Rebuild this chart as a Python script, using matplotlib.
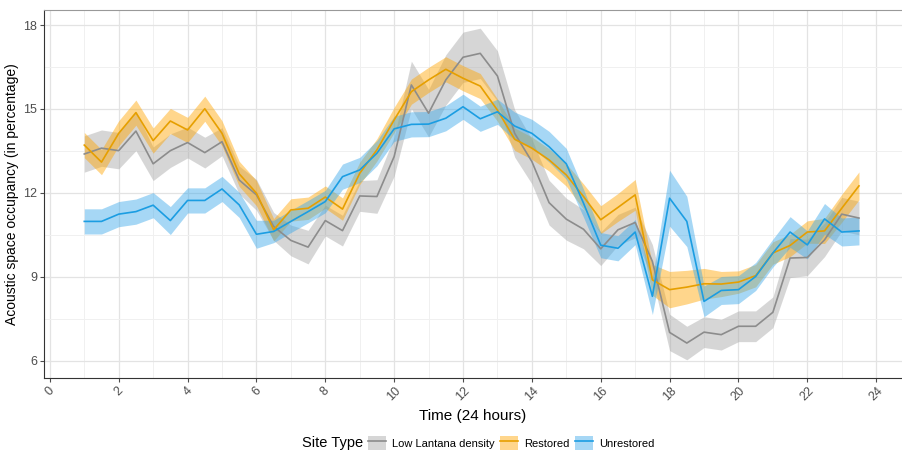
import matplotlib.pyplot as plt
import numpy as np
from matplotlib.lines import Line2D
from matplotlib.patches import Patch

plt.rcParams['font.family'] = ['Liberation Sans', 'DejaVu Sans']

hours = np.arange(1, 24, 0.5)

# Low Lantana density
low_mean = [13.39, 13.60, 13.51, 14.21, 13.04, 13.51, 13.80, 13.44, 13.83, 12.46,
            11.93, 10.80, 10.30, 10.06, 11.01, 10.65, 11.89, 11.87, 13.30, 15.86,
            14.85, 16.04, 16.85, 16.99, 16.18, 14.13, 13.12, 11.65, 11.06, 10.70,
            10.00, 10.68, 10.94, 9.55, 7.01, 6.63, 7.02, 6.93, 7.23, 7.23,
            7.73, 9.67, 9.69, 10.32, 11.24, 11.10]
low_hw = [0.65, 0.65, 0.65, 0.70, 0.60, 0.60, 0.55, 0.55, 0.50, 0.50,
          0.55, 0.50, 0.55, 0.60, 0.55, 0.55, 0.55, 0.60, 0.70, 0.85,
          0.85, 0.90, 0.90, 0.90, 0.90, 0.85, 0.80, 0.80, 0.75, 0.70,
          0.60, 0.55, 0.55, 0.60, 0.65, 0.60, 0.55, 0.55, 0.55, 0.55,
          0.55, 0.70, 0.65, 0.60, 0.60, 0.60]

# Restored
res_mean = [13.71, 13.10, 14.13, 14.87, 13.87, 14.57, 14.25, 15.01, 14.13, 12.68,
            11.99, 10.68, 11.39, 11.45, 11.85, 11.42, 12.70, 13.54, 14.61, 15.62,
            16.04, 16.42, 16.10, 15.82, 14.96, 13.92, 13.60, 13.18, 12.64, 11.87,
            11.04, 11.48, 11.93, 8.89, 8.54, 8.63, 8.75, 8.74, 8.81, 9.04,
            9.85, 10.12, 10.60, 10.64, 11.45, 12.25]
res_hw = [0.45, 0.45, 0.45, 0.45, 0.45, 0.45, 0.45, 0.45, 0.45, 0.45,
          0.45, 0.40, 0.40, 0.40, 0.40, 0.40, 0.40, 0.40, 0.45, 0.45,
          0.45, 0.45, 0.45, 0.45, 0.40, 0.40, 0.40, 0.40, 0.40, 0.45,
          0.50, 0.50, 0.55, 0.55, 0.65, 0.60, 0.55, 0.45, 0.40, 0.40,
          0.40, 0.40, 0.40, 0.45, 0.50, 0.50]

# Unrestored
unr_mean = [10.98, 10.98, 11.24, 11.33, 11.56, 11.01, 11.73, 11.73, 12.14, 11.57,
            10.52, 10.62, 10.98, 11.33, 11.69, 12.58, 12.82, 13.42, 14.29, 14.45,
            14.46, 14.67, 15.08, 14.65, 14.90, 14.39, 14.13, 13.65, 13.04, 11.63,
            10.13, 10.02, 10.60, 8.30, 11.81, 10.98, 8.12, 8.51, 8.54, 9.01,
            9.85, 10.60, 10.14, 11.07, 10.60, 10.64]
unr_hw = [0.45, 0.45, 0.45, 0.45, 0.45, 0.50, 0.45, 0.45, 0.45, 0.45,
          0.50, 0.40, 0.40, 0.40, 0.40, 0.45, 0.45, 0.45, 0.45, 0.45,
          0.45, 0.45, 0.45, 0.45, 0.45, 0.50, 0.50, 0.55, 0.55, 0.50,
          0.45, 0.45, 0.45, 0.65, 1.00, 0.90, 0.55, 0.50, 0.50, 0.50,
          0.50, 0.55, 0.50, 0.55, 0.50, 0.50]

series = [
    ('Low Lantana density', low_mean, low_hw, '#8c8c8c', '#a6a6a6'),
    ('Restored', res_mean, res_hw, '#E69F00', '#FFA500'),
    ('Unrestored', unr_mean, unr_hw, '#1B9DE2', '#3AA8EA'),
]

fig = plt.figure(figsize=(9.03, 4.51), dpi=100)
ax = fig.add_axes([44 / 903, 1 - 378 / 451, 858 / 903, 368 / 451])

handles = []
for name, m, hw, line_c, fill_c in series:
    m = np.array(m)
    hw = np.array(hw)
    ax.fill_between(hours, m - hw, m + hw, color=fill_c, alpha=0.45, lw=0, zorder=2)
    ax.plot(hours, m, color=line_c, lw=1.2, zorder=3)
    handles.append((Patch(facecolor=fill_c, alpha=0.45, edgecolor='none'),
                    Line2D([], [], color=line_c, lw=1.2)))

ax.set_xlim(-0.17, 24.75)
ax.set_ylim(5.38, 18.54)
ax.set_xticks(np.arange(0, 25, 2))
ax.set_xticks(np.arange(1, 25, 2), minor=True)
ax.set_yticks([6, 9, 12, 15, 18])
ax.set_yticks([7.5, 10.5, 13.5, 16.5], minor=True)
ax.grid(which='major', color='#e3e3e3', lw=0.9, zorder=0)
ax.grid(which='minor', color='#f0f0f0', lw=0.7, zorder=0)
ax.set_axisbelow(True)

ax.tick_params(axis='x', which='major', labelrotation=45, labelsize=9, colors='#4d4d4d',
               length=3, pad=2)
ax.tick_params(axis='y', which='major', labelsize=9, colors='#4d4d4d', length=3, pad=2)
ax.tick_params(which='minor', length=0)
for lab in ax.get_xticklabels():
    lab.set_ha('center')

ax.spines['right'].set_visible(False)
ax.spines['top'].set_color('#999999')
ax.spines['left'].set_color('#333333')
ax.spines['bottom'].set_color('#333333')

ax.set_xlabel('Time (24 hours)', fontsize=11, labelpad=4)
ax.set_ylabel('Acoustic space occupancy (in percentage)', fontsize=10)
ax.yaxis.set_label_coords(-25 / 858, 0.5)

fig.text(302 / 903, 1 - 443 / 451, 'Site Type', fontsize=10.5, va='center', ha='left')
fig.legend(handles, [s[0] for s in series], loc='center left',
           bbox_to_anchor=(368 / 903, 1 - 443 / 451), ncol=3, frameon=False,
           fontsize=8, handlelength=1.6, handleheight=1.6, handletextpad=0.6,
           columnspacing=0.45, borderpad=0, borderaxespad=0)

fig.savefig('out.png', dpi=100)
